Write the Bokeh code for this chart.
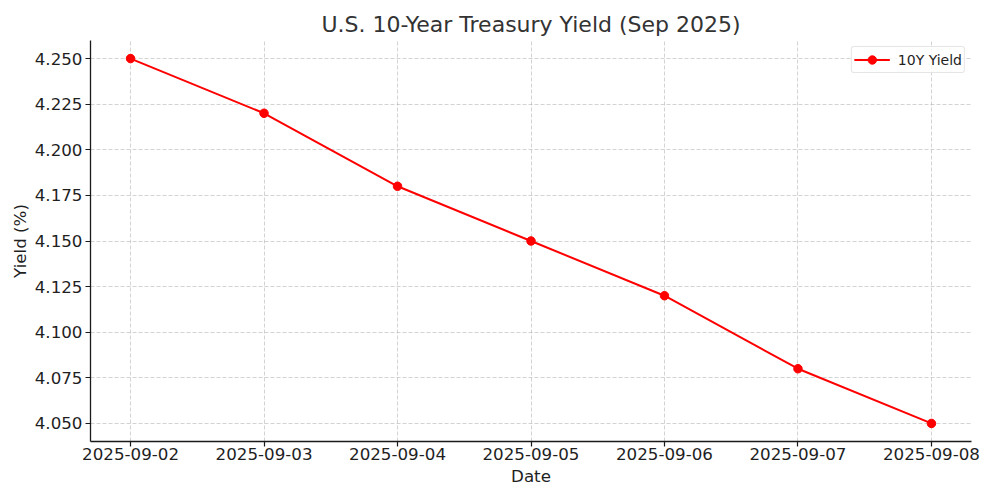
from bokeh.plotting import figure
from bokeh.models import ColumnDataSource, FixedTicker, NumeralTickFormatter, Range1d, Legend
from bokeh.embed import file_html
from bokeh.resources import INLINE

dates = ["2025-09-02", "2025-09-03", "2025-09-04", "2025-09-05",
         "2025-09-06", "2025-09-07", "2025-09-08"]
yields = [4.25, 4.22, 4.18, 4.15, 4.12, 4.08, 4.05]
y_ticks = [4.050, 4.075, 4.100, 4.125, 4.150, 4.175, 4.200, 4.225, 4.250]

idx = list(range(len(dates)))
src = ColumnDataSource(dict(x=idx, y=yields, d=dates))

FONT = "DejaVu Sans"
TXT = "#1f1f1f"

p = figure(width=1000, height=500, output_backend="svg", toolbar_location=None,
           x_range=Range1d(-0.3, len(dates) - 1 + 0.3),
           y_range=Range1d(4.0401, 4.2599),
           min_border_left=90, min_border_right=29, min_border_top=40, min_border_bottom=59,
           background_fill_color="white", border_fill_color="white")
p.outline_line_color = None

p.title.text = "U.S. 10-Year Treasury Yield (Sep 2025)"
p.title.align = "center"
p.title.text_font = FONT
p.title.text_font_size = "22px"
p.title.text_font_style = "normal"
p.title.text_color = "#333333"
p.title.standoff = 7

r_line = p.line("x", "y", source=src, line_color="red", line_width=2)
r_pts = p.scatter("x", "y", source=src, size=8.5, fill_color="red", line_color="red")

p.xaxis.ticker = FixedTicker(ticks=idx)
p.xaxis.major_label_overrides = {i: d for i, d in zip(idx, dates)}
p.yaxis.ticker = FixedTicker(ticks=y_ticks)
p.yaxis.formatter = NumeralTickFormatter(format="0.000")

for ax in (p.xaxis[0], p.yaxis[0]):
    ax.axis_line_color = "#1a1a1a"
    ax.axis_line_width = 1.3
    ax.major_tick_line_color = "#1a1a1a"
    ax.major_tick_line_width = 1.2
    ax.major_tick_in = 0
    ax.major_tick_out = 5
    ax.minor_tick_line_color = None
    ax.major_label_text_font = FONT
    ax.major_label_text_font_size = "16.7px"
    ax.major_label_text_color = TXT
    ax.axis_label_text_font = FONT
    ax.axis_label_text_font_size = "16.7px"
    ax.axis_label_text_font_style = "normal"
    ax.axis_label_text_color = TXT

p.xaxis.major_label_standoff = 1
p.yaxis.major_label_standoff = 3
p.xaxis.axis_label = "Date"
p.yaxis.axis_label = "Yield (%)"
p.xaxis.axis_label_standoff = 3
p.yaxis.axis_label_standoff = 2

p.grid.grid_line_color = "#b0b0b0"
p.grid.grid_line_alpha = 0.7
p.grid.grid_line_dash = "4 2"
p.grid.grid_line_width = 0.8

legend = Legend(items=[("10Y Yield", [r_line, r_pts])], location="top_right")
legend.margin = 6
legend.padding = 2
legend.spacing = 0
legend.label_text_font = FONT
legend.label_text_font_size = "14px"
legend.label_text_color = TXT
legend.border_line_color = "#cccccc"
legend.border_line_width = 1
legend.border_radius = 3
legend.background_fill_alpha = 0.8
legend.glyph_width = 36
legend.glyph_height = 21
legend.label_standoff = 8
legend.label_height = 14
p.add_layout(legend)

open("out.html", "w").write(file_html(p, INLINE))
